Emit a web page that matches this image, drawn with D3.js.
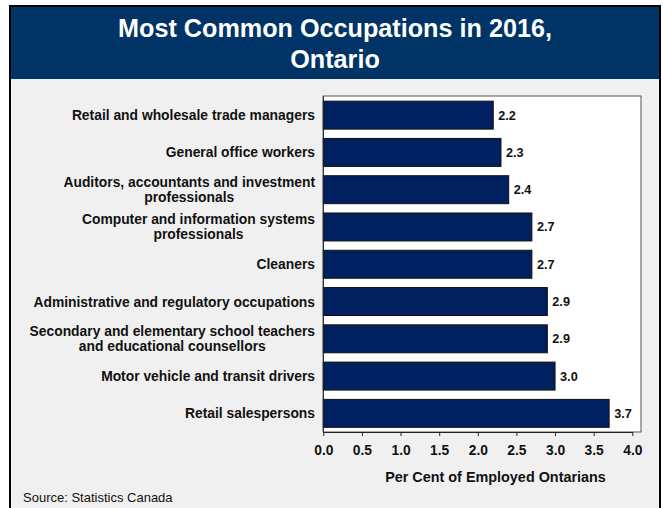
<!DOCTYPE html>
<html>
<head>
<meta charset="utf-8">
<script src="https://cdn.jsdelivr.net/npm/d3@7"></script>
<style>
  html, body { margin: 0; padding: 0; background: #ffffff; }
  svg { display: block; }
  text { font-family: Arial, "Liberation Sans", sans-serif; }
</style>
</head>
<body>
<svg id="chart" width="663" height="508"></svg>
<script>
// Occupations, top to bottom, with their share of employed Ontarians (%)
const categories = [
  ["Retail and wholesale trade managers"],
  ["General office workers"],
  ["Auditors, accountants and investment", "professionals"],
  ["Computer and information systems", "professionals"],
  ["Cleaners"],
  ["Administrative and regulatory occupations"],
  ["Secondary and elementary school teachers", "and educational counsellors"],
  ["Motor vehicle and transit drivers"],
  ["Retail salespersons"]
];
const values = [2.2, 2.3, 2.4, 2.7, 2.7, 2.9, 2.9, 3.0, 3.7];
const xTicks = [0, 0.5, 1, 1.5, 2, 2.5, 3, 3.5, 4];

const titleLines = ["Most Common Occupations in 2016,", "Ontario"];
const xAxisTitle = "Per Cent of Employed Ontarians";
const sourceNote = "Source: Statistics Canada";

const svg = d3.select("#chart");

// Light grey panel with a dark frame
svg.append("rect")
  .attr("x", 10).attr("y", 6).attr("width", 650).attr("height", 510)
  .attr("fill", "#f0f0f0").attr("stroke", "#000").attr("stroke-width", 2);

// Title banner
svg.append("rect")
  .attr("x", 11).attr("y", 7).attr("width", 648).attr("height", 72)
  .attr("fill", "#003366");

svg.append("text")
  .attr("x", 335).attr("y", 37)
  .attr("text-anchor", "middle")
  .attr("fill", "#fff")
  .attr("font-weight", "bold")
  .attr("font-size", "25.2px")
  .selectAll("tspan").data(titleLines).join("tspan")
  .attr("x", 335)
  .attr("dy", (d, i) => i === 0 ? 0 : 31)
  .text(d => d);

// Plot area
const plot = { left: 323.3, right: 641, top: 96, bottom: 432 };

const x = d3.scaleLinear().domain([0, 4]).range([plot.left, 632.3]);
const y = d3.scaleBand()
  .domain(d3.range(categories.length))
  .range([96.5, 432])
  .paddingInner(0.25)
  .paddingOuter(0.125);

svg.append("rect")
  .attr("x", plot.left).attr("y", plot.top)
  .attr("width", plot.right - plot.left).attr("height", plot.bottom - plot.top)
  .attr("fill", "#fff").attr("stroke", "#555").attr("stroke-width", 1);

// Bars
svg.append("g").selectAll("rect").data(values).join("rect")
  .attr("x", x(0))
  .attr("y", (d, i) => y(i))
  .attr("width", d => x(d) - x(0))
  .attr("height", y.bandwidth())
  .attr("fill", "#002060")
  .attr("stroke", "#111")
  .attr("stroke-width", 1);

// Value labels
svg.append("g").selectAll("text").data(values).join("text")
  .attr("x", d => x(d) + 5)
  .attr("y", (d, i) => y(i) + y.bandwidth() / 2 + 4.5)
  .attr("font-weight", "bold")
  .attr("font-size", "12.7px")
  .attr("fill", "#111")
  .text(d => d3.format(".1f")(d));

// Category labels: right-aligned block; wrapped lines centered within the block
const labelRight = 315;
const lineGap = 15;
const catG = svg.append("g");
categories.forEach((lines, i) => {
  const cy = y(i) + y.bandwidth() / 2;
  const t = catG.append("text")
    .attr("font-weight", "bold")
    .attr("font-size", "13.85px")
    .attr("fill", "#111");
  const spans = t.selectAll("tspan").data(lines).join("tspan")
    .text(d => d);
  const firstBase = cy + 5 - (lines.length - 1) * lineGap / 2;
  if (lines.length === 1) {
    t.attr("text-anchor", "end");
    spans.attr("x", labelRight).attr("y", firstBase);
  } else {
    const widths = spans.nodes().map(n => n.getComputedTextLength());
    const cx = labelRight - d3.max(widths) / 2;
    t.attr("text-anchor", "middle");
    spans.attr("x", cx).attr("y", (d, k) => firstBase + k * lineGap);
  }
});

// X axis
const xAxis = d3.axisBottom(x)
  .tickValues(xTicks)
  .tickFormat(d3.format(".1f"))
  .tickSize(4)
  .tickSizeOuter(0);

const axG = svg.append("g")
  .attr("transform", `translate(0,${plot.bottom})`)
  .call(xAxis);
axG.select(".domain").attr("stroke", "#222");
axG.selectAll(".tick line").attr("stroke", "#222");
axG.selectAll(".tick text")
  .attr("font-family", "Arial, 'Liberation Sans', sans-serif")
  .attr("font-weight", "bold")
  .attr("font-size", "13.8px")
  .attr("fill", "#111")
  .attr("dy", 0)
  .attr("y", 23);

// Y axis line
svg.append("line")
  .attr("x1", plot.left).attr("x2", plot.left)
  .attr("y1", plot.top).attr("y2", plot.bottom)
  .attr("stroke", "#222");

// Axis title
svg.append("text")
  .attr("x", 495.5).attr("y", 482)
  .attr("text-anchor", "middle")
  .attr("font-weight", "bold")
  .attr("font-size", "14.4px")
  .attr("fill", "#111")
  .text(xAxisTitle);

// Source note
svg.append("text")
  .attr("x", 23).attr("y", 502)
  .attr("font-size", "13px")
  .attr("fill", "#111")
  .text(sourceNote);
</script>
</body>
</html>
